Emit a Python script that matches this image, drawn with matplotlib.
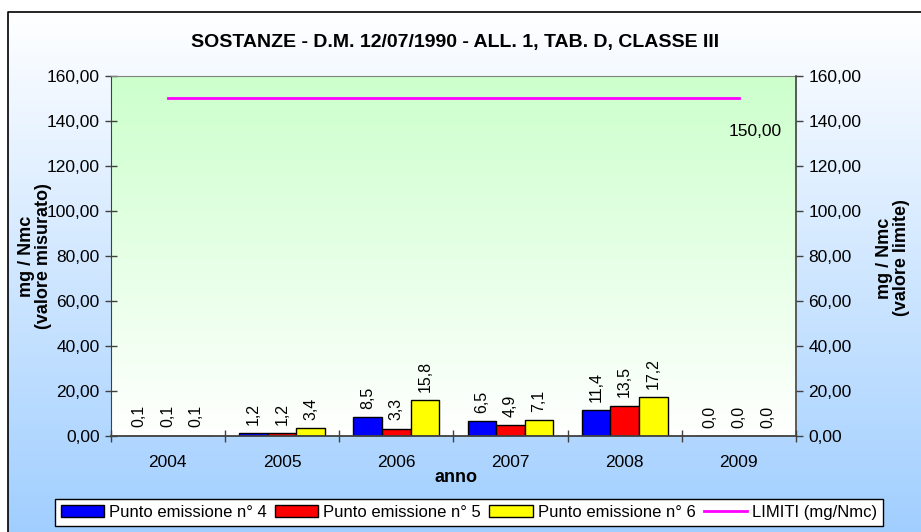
import numpy as np
import matplotlib.pyplot as plt
from matplotlib.ticker import FuncFormatter, FixedLocator

plt.rcParams['font.family'] = ['Liberation Sans', 'DejaVu Sans']

### Dati
anni = ['2004', '2005', '2006', '2007', '2008', '2009']
p4 = [0.1, 1.2, 8.5, 6.5, 11.4, 0.0]
p5 = [0.1, 1.2, 3.3, 4.9, 13.5, 0.0]
p6 = [0.1, 3.4, 15.8, 7.1, 17.2, 0.0]
limiti = [150, 150, 150, 150, 150, 150]

serie = [p4, p5, p6]
nomi = ['Punto emissione n° 4', 'Punto emissione n° 5', 'Punto emissione n° 6']
colori = ['#0000FF', '#FF0000', '#FFFF00']

W, H = 921, 532
fig = plt.figure(figsize=(W / 100, H / 100), dpi=100)

# sfondo sfumato della figura
bg = fig.add_axes([0, 0, 1, 1], zorder=-10)
bg.set_xlim(0, W)
bg.set_ylim(H, 0)
bg.axis('off')
g = np.linspace(0, 1, 256).reshape(-1, 1, 1)
alto = np.array([1.0, 1.0, 1.0])
basso = np.array([0.63, 0.81, 1.0])
bg.imshow(alto + (basso - alto) * g, extent=[8, W, H, 12], aspect='auto')
bg.plot([8, 8, W], [H, 12, 12], color='black', lw=1.2)

### Grafico
ax = fig.add_axes([110.7 / W, 1 - 436 / H, (796 - 110.7) / W, (436 - 75.7) / H])
ax.patch.set_alpha(0)

verde = np.array([0.8, 1.0, 0.8])
bianco = np.array([1.0, 1.0, 1.0])
ax.imshow(verde + (bianco - verde) * g, extent=[-0.5, 5.5, 0, 160], aspect='auto', zorder=0)

x = np.arange(len(anni))
w = 0.25
barre = []
for k in range(3):
    b = ax.bar(x + (k - 1) * w, serie[k], w, color=colori[k], edgecolor='black', lw=1, zorder=2, label=nomi[k])
    barre.append(b)
    for i in range(len(anni)):
        ax.annotate(('%.1f' % serie[k][i]).replace('.', ','), (x[i] + (k - 1) * w, serie[k][i]),
                    xytext=(0, 6), textcoords='offset points', rotation=90,
                    ha='center', va='bottom', fontsize=11.5, zorder=3)

ax.set_xlim(-0.5, 5.5)
ax.set_ylim(0, 160)

fmt = FuncFormatter(lambda v, _: ('%.2f' % v).replace('.', ','))
ax.yaxis.set_major_locator(FixedLocator(np.arange(0, 161, 20)))
ax.yaxis.set_major_formatter(fmt)
ax.tick_params(axis='y', direction='inout', length=8, width=1, colors='#404040', labelcolor='black', labelsize=12.5, pad=4)

ax.xaxis.set_major_locator(FixedLocator(np.arange(-0.5, 5.6, 1)))
ax.xaxis.set_major_formatter(FuncFormatter(lambda v, _: ''))
ax.xaxis.set_minor_locator(FixedLocator(x))
ax.set_xticks(x, anni, minor=True)
ax.tick_params(axis='x', which='major', direction='inout', length=9, width=1, colors='#404040')
ax.tick_params(axis='x', which='minor', length=0, labelsize=12.5, pad=14)

ax.spines['top'].set_color('#808080')
ax.spines['left'].set_color('#404040')
ax.spines['bottom'].set_color('#404040')
ax.spines['bottom'].set_linewidth(1.3)
ax.spines['right'].set_visible(False)

ax2 = ax.twinx()
ax2.set_ylim(0, 160)
ax2.yaxis.set_major_locator(FixedLocator(np.arange(0, 161, 20)))
ax2.yaxis.set_major_formatter(fmt)
ax2.tick_params(axis='y', direction='out', length=5, width=1, colors='#404040', labelcolor='black', labelsize=12.5, pad=4)
ax2.spines['right'].set_color('#404040')
ax2.spines['right'].set_linewidth(1.2)
for s in ['top', 'left', 'bottom']:
    ax2.spines[s].set_visible(False)

linea, = ax2.plot(x, limiti, color='#FF00FF', lw=2, label='LIMITI (mg/Nmc)')
ax2.annotate(('%.2f' % limiti[-1]).replace('.', ','), (x[-1], limiti[-1]), xytext=(31, -24),
             textcoords='offset points', ha='right', va='center', fontsize=12.5)

### Testi
fig.text(455 / W, 1 - 43 / H, 'SOSTANZE - D.M. 12/07/1990 - ALL. 1, TAB. D, CLASSE III',
         ha='center', va='center', fontsize=14, fontweight='bold')
fig.text(456 / W, 1 - 478 / H, 'anno', ha='center', va='center', fontsize=13, fontweight='bold')
fig.text(35 / W, 1 - 256 / H, 'mg / Nmc\n(valore misurato)', rotation=90, ha='center', va='center',
         fontsize=13, fontweight='bold', multialignment='center', linespacing=1.0)
fig.text(893 / W, 1 - 258 / H, 'mg / Nmc\n(valore limite)', rotation=90, ha='center', va='center',
         fontsize=13, fontweight='bold', multialignment='center', linespacing=1.0)

leg = fig.legend(barre + [linea], nomi + ['LIMITI (mg/Nmc)'], loc='upper center',
                 bbox_to_anchor=(469 / W, 1 - 499 / H), ncol=4, fontsize=12,
                 frameon=True, fancybox=False, edgecolor='black', framealpha=1,
                 handlelength=2.6, handleheight=0.7, columnspacing=0.5, handletextpad=0.3,
                 borderpad=0.35, borderaxespad=0)
leg.get_frame().set_linewidth(1)

plt.savefig('out.png', dpi=100)
